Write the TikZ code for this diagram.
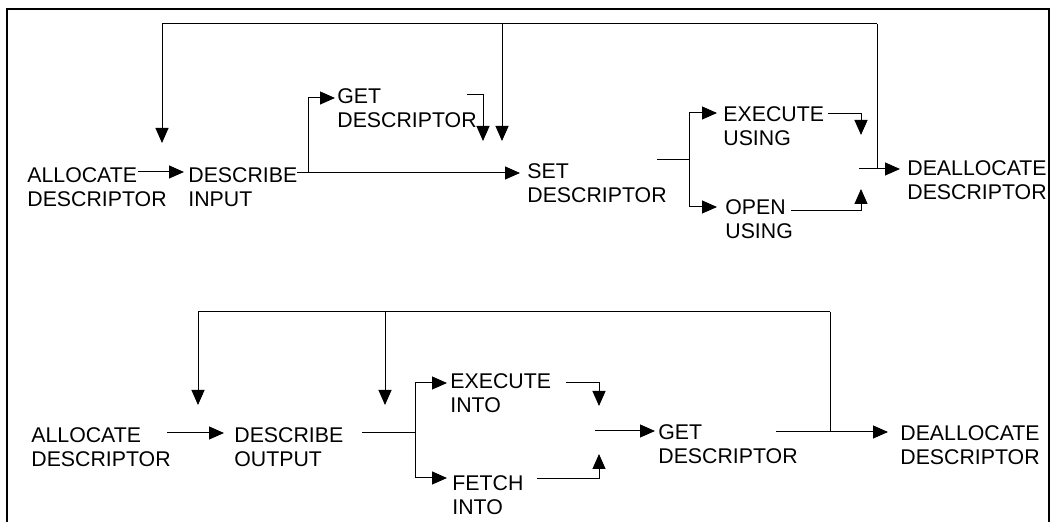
\documentclass[tikz,border=0pt]{standalone}
\usepackage{fontspec}
\setmainfont{Liberation Sans}
\usetikzlibrary{arrows.meta}

\tikzset{
  lbl/.style={anchor=north west, inner sep=0pt, align=left,
    font=\fontsize{10.65}{12.1}\selectfont},
  conn/.style={line width=0.5pt},
  arr/.style={conn, -{Triangle[length=7.5pt,width=6.5pt]}},
  frame/.style={line width=0.8pt}
}

\begin{document}
\begin{tikzpicture}[x=0.5pt, y=-0.5pt, line join=miter]
  \useasboundingbox (0,0) rectangle (1054,522);

  % Khung
  \draw[frame] (7,522) -- (7,9) -- (1049,9) -- (1049,522);

  % Hàng trên: các nút
  \node[lbl] (alloc1) at (27,167) {ALLOCATE\\DESCRIPTOR};
  \node[lbl] (descin) at (188,167) {DESCRIBE\\INPUT};
  \node[lbl] (getd1) at (337,88) {GET\\DESCRIPTOR};
  \node[lbl] (setd) at (527,163) {SET\\DESCRIPTOR};
  \node[lbl] (exeu) at (723,106) {EXECUTE\\USING};
  \node[lbl] (openu) at (725,199) {OPEN\\USING};
  \node[lbl] (dealloc1) at (907,160) {DEALLOCATE\\DESCRIPTOR};

  % Hàng trên: các điểm nối
  \coordinate (t1) at (162,24);  \coordinate (t1tip) at (162,143);
  \coordinate (t2) at (502,24);  \coordinate (t2tip) at (502,141);
  \coordinate (t3) at (877,24);  \coordinate (t3end) at (877,169);
  \coordinate (a1out) at (138,172);
  \coordinate (d1out) at (297,173); \coordinate (br1) at (308,173);
  \coordinate (g1out) at (467,95);  \coordinate (g1tip) at (483,141);
  \coordinate (s1out) at (657,160); \coordinate (br2) at (689,160);
  \coordinate (e1out) at (828,114); \coordinate (e1tip) at (861,135);
  \coordinate (o1out) at (791,211); \coordinate (o1tip) at (861,189);
  \coordinate (m1) at (859,169);

  % Hàng trên: đường nối
  \draw[conn] (t1) -- (t3);
  \draw[arr] (t1) -- (t1tip);
  \draw[arr] (t2) -- (t2tip);
  \draw[conn] (t3) -- (t3end);
  \draw[arr] (a1out) -- ([shift={(-4,5)}]descin.north west);
  \draw[arr] (d1out) -- ([shift={(-7,10)}]setd.north west);
  \draw[arr] (br1) |- ([shift={(-2,10)}]getd1.north west);
  \draw[arr] (g1out) -| (g1tip);
  \draw[conn] (s1out) -- (br2);
  \draw[arr] (br2) |- ([shift={(-6,7)}]exeu.north west);
  \draw[arr] (br2) |- ([shift={(-8,8)}]openu.north west);
  \draw[arr] (e1out) -| (e1tip);
  \draw[arr] (o1out) -| (o1tip);
  \draw[arr] (m1) -- ([shift={(-7,9)}]dealloc1.north west);

  % Hàng dưới: các nút
  \node[lbl] (alloc2) at (31,427) {ALLOCATE\\DESCRIPTOR};
  \node[lbl] (descout) at (234,427) {DESCRIBE\\OUTPUT};
  \node[lbl] (exei) at (450,373) {EXECUTE\\INTO};
  \node[lbl] (fetch) at (452,475) {FETCH\\INTO};
  \node[lbl] (getd2) at (658,424) {GET\\DESCRIPTOR};
  \node[lbl] (dealloc2) at (900,425) {DEALLOCATE\\DESCRIPTOR};

  % Hàng dưới: các điểm nối
  \coordinate (u1) at (198,312);  \coordinate (u1tip) at (198,405);
  \coordinate (u2) at (385,312);  \coordinate (u2tip) at (385,405);
  \coordinate (u3) at (830,312);  \coordinate (u3end) at (830,432);
  \coordinate (a2out) at (167,433);
  \coordinate (d2out) at (362,433); \coordinate (br3) at (415,433);
  \coordinate (e2out) at (566,383); \coordinate (e2tip) at (599,406);
  \coordinate (f2out) at (537,479); \coordinate (f2tip) at (599,454);
  \coordinate (m2) at (595,431);
  \coordinate (g2out) at (776,432);

  % Hàng dưới: đường nối
  \draw[conn] (u1) -- (u3);
  \draw[arr] (u1) -- (u1tip);
  \draw[arr] (u2) -- (u2tip);
  \draw[conn] (u3) -- (u3end);
  \draw[arr] (a2out) -- ([shift={(-10,6)}]descout.north west);
  \draw[conn] (d2out) -- (br3);
  \draw[arr] (br3) |- ([shift={(-3,10)}]exei.north west);
  \draw[arr] (br3) |- ([shift={(-5,3)}]fetch.north west);
  \draw[arr] (e2out) -| (e2tip);
  \draw[arr] (f2out) -| (f2tip);
  \draw[arr] (m2) -- ([shift={(-3,7)}]getd2.north west);
  \draw[arr] (g2out) -- ([shift={(-12,7)}]dealloc2.north west);
\end{tikzpicture}
\end{document}
